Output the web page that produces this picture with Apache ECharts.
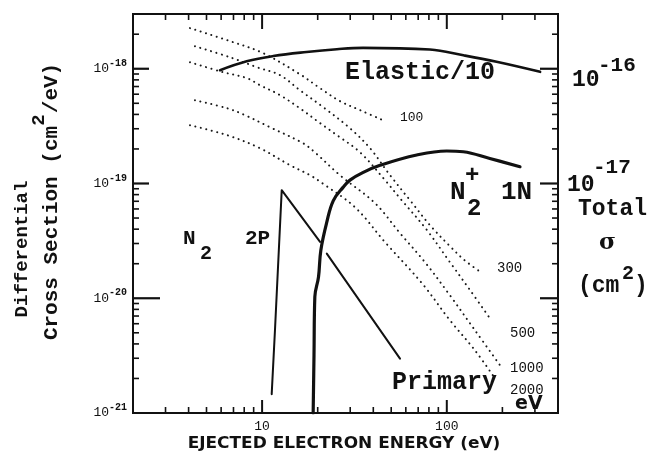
<!DOCTYPE html>
<html>
<head>
<meta charset="utf-8">
<script src="https://cdn.jsdelivr.net/npm/echarts@6/dist/echarts.min.js"></script>
<style>
  html, body { margin: 0; padding: 0; background: #fff; }
  #c { width: 651px; height: 459px; }
</style>
</head>
<body>
<div id="c"></div>
<script>
// Axis ranges: ejected electron energy (eV), differential cross section (cm^2/eV),
// and total cross section (cm^2) on the right-hand scale.
const X_MIN = 2, X_MAX = 400;
const Y_MIN = 1e-21, Y_MAX = 3e-18;
const TOTAL_MIN = 1e-19, TOTAL_MAX = 3e-16;
// The log scale is fed values in these units to keep the numbers well inside float precision
const Y_UNIT = 1e-21, TOTAL_UNIT = 1e-19;

// Tick positions
const xMajorTicks = [10, 100];
const xMinorTicks = [3, 4, 5, 6, 7, 8, 9, 20, 30, 40, 50, 60, 70, 80, 90, 200, 300];
const yDecades = [1e-21, 1e-20, 1e-19, 1e-18];
const totalDecades = [1e-19, 1e-18, 1e-17, 1e-16];
const minorMultipliers = [2, 3, 4, 5, 6, 7, 8, 9];
const yLabelledExponents = [-21, -20, -19, -18];

// Elastic / 10
const elasticE = [5.92, 8.25, 11.5, 17.4, 25.4, 35.2, 81, 123, 186, 320];
const elasticS = [9.7e-19, 1.16e-18, 1.29e-18, 1.40e-18, 1.48e-18, 1.52e-18, 1.47e-18, 1.31e-18, 1.15e-18, 9.4e-19];

// N2+ first negative
const n1nE = [18.9, 19.1, 19.3, 20.2, 20.8, 22.4, 24.3, 27.5, 29.9, 35.3, 43.5, 68.7, 99.8, 122.8, 171, 249];
const n1nS = [1.0e-21, 3.2e-21, 1.03e-20, 1.53e-20, 2.62e-20, 4.6e-20, 7.1e-20, 9.3e-20, 1.07e-19, 1.25e-19, 1.44e-19, 1.77e-19, 1.92e-19, 1.89e-19, 1.65e-19, 1.40e-19];

// N2 second positive (pen lifted where it crosses the 1N curve)
const n2pE = [11.27, 11.74, 12.77, 20.6, null, 22.4, 55.8];
const n2pS = [1.46e-21, 5.26e-21, 8.74e-20, 3.1e-20, null, 2.45e-20, 2.98e-21];

// Secondary electron spectra for primary energies 100 ... 2000 eV
const p100E = [4.07, 6.70, 10.1, 16.0, 20.6, 26.4, 33.9, 45.1];
const p100S = [2.26e-18, 1.74e-18, 1.37e-18, 8.97e-19, 6.77e-19, 5.22e-19, 4.36e-19, 3.56e-19];

const p300E = [4.33, 6.70, 9.39, 12.5, 16.0, 21.4, 29.9, 38.4, 49.3, 63.2, 81.1, 104, 125, 148];
const p300S = [1.57e-18, 1.26e-18, 1.03e-18, 8.80e-19, 6.51e-19, 4.63e-19, 3.03e-19, 2.03e-19, 1.18e-19, 7.15e-20, 4.33e-20, 2.84e-20, 2.14e-20, 1.75e-20];

const p500E = [4.07, 6.14, 8.28, 9.74, 12.5, 16.0, 20.6, 25.4, 33.9, 46.3, 55.8, 78.1, 104, 134, 171];
const p500S = [1.14e-18, 9.34e-19, 8.28e-19, 7.19e-19, 5.89e-19, 4.53e-19, 3.36e-19, 2.64e-19, 1.87e-19, 1.07e-19, 7.44e-20, 3.92e-20, 2.06e-20, 1.17e-20, 6.69e-21];

const p1000E = [4.33, 6.46, 8.08, 11.0, 16.6, 19.3, 26.4, 40.9, 55.8, 76.2, 104, 142, 194];
const p1000S = [5.32e-19, 4.53e-19, 3.94e-19, 3.10e-19, 2.25e-19, 1.87e-19, 1.18e-19, 6.73e-20, 3.69e-20, 2.06e-20, 1.06e-20, 5.26e-21, 2.61e-21];

const p2000E = [4.07, 6.46, 9.74, 14.2, 18.2, 21.1, 31.8, 46.3, 73.4, 104, 142, 182];
const p2000S = [3.22e-19, 2.64e-19, 2.03e-19, 1.44e-19, 1.18e-19, 1.01e-19, 6.22e-20, 3.08e-20, 1.35e-20, 6.43e-21, 3.52e-21, 2.01e-21];

const MONO = '"Liberation Mono", "DejaVu Sans Mono", monospace';
const SANS = '"DejaVu Sans", sans-serif';

function pairs(xs, ys) {
  return xs.map((x, i) => (x === null ? [NaN, NaN] : [x, ys[i] / Y_UNIT]));
}

function expOf(v) {
  const e = Math.log10(v);
  return Math.abs(e - Math.round(e)) < 1e-6 ? Math.round(e) : null;
}

// Tick marks: [x, y, dx, dy, lineWidth], x/y in the bound axes' units
const frameTicks = [];
const totalTicks = [];
function minorsOf(decades) {
  const out = [];
  decades.forEach(d => minorMultipliers.forEach(m => out.push(m * d)));
  return out;
}
const yLo = Y_MIN / Y_UNIT, yHi = Y_MAX / Y_UNIT;
xMajorTicks.forEach(t => {
  frameTicks.push([t, yLo, 0, -13, 2]);
  frameTicks.push([t, yHi, 0, 15, 2]);
});
xMinorTicks.forEach(t => {
  frameTicks.push([t, yLo, 0, -6, 1.6]);
  frameTicks.push([t, yHi, 0, 6, 1.6]);
});
yDecades.forEach(t => {
  if (t === Y_MIN) return;
  frameTicks.push([X_MIN, t / Y_UNIT, Math.abs(t - 1e-20) < 1e-25 ? 27 : 16, 0, 2.2]);
});
minorsOf(yDecades).filter(v => v < Y_MAX * 0.999).forEach(t => {
  frameTicks.push([X_MIN, t / Y_UNIT, 6, 0, 1.6]);
});
totalDecades.forEach(t => {
  if (t === TOTAL_MIN) return;
  totalTicks.push([X_MAX, t / TOTAL_UNIT, -18, 0, 2.2]);
});
minorsOf(totalDecades).filter(v => v < TOTAL_MAX * 0.999).forEach(t => {
  totalTicks.push([X_MAX, t / TOTAL_UNIT, -6, 0, 1.6]);
});

function tickRender(params, api) {
  const p = api.coord([api.value(0), api.value(1)]);
  return {
    type: 'line',
    shape: { x1: p[0], y1: p[1], x2: p[0] + api.value(2), y2: p[1] + api.value(3) },
    style: { stroke: '#111', lineWidth: api.value(4) }
  };
}

const solid = (name, xs, ys, width, smooth) => ({
  name, type: 'line', data: pairs(xs, ys), symbol: 'none', showSymbol: false, smooth,
  connectNulls: false, silent: true,
  lineStyle: { color: '#111', width, cap: 'round', join: 'round' }
});
const dotted = (name, xs, ys) => ({
  name, type: 'line', data: pairs(xs, ys), symbol: 'none', showSymbol: false, smooth: 0.35, silent: true,
  lineStyle: { color: '#1a1a1a', width: 2, type: [0.1, 5.5], cap: 'round' }
});

function txt(text, x, y, font, extra) {
  const el = {
    type: 'text', x, y, silent: true,
    style: { text, font, fill: '#111', align: 'left', textAlign: 'left', verticalAlign: 'middle', textVerticalAlign: 'middle' }
  };
  if (extra) {
    Object.assign(el, extra.el || {});
    Object.assign(el.style, extra.style || {});
  }
  return el;
}
const upright = () => ({ el: { rotation: Math.PI / 2 }, style: { align: 'center', textAlign: 'center' } });

const chart = echarts.init(document.getElementById('c'), null, { renderer: 'canvas' });
chart.setOption({
  animation: false,
  backgroundColor: '#fff',
  grid: { left: 133, right: 93, top: 14, bottom: 46, show: true, borderColor: '#111', borderWidth: 2, backgroundColor: 'transparent' },
  xAxis: {
    type: 'log', logBase: 10, min: X_MIN, max: X_MAX,
    axisLine: { show: false }, axisTick: { show: false }, splitLine: { show: false }, minorTick: { show: false },
    axisLabel: {
      margin: 7, color: '#111', fontFamily: MONO, fontSize: 13,
      formatter: v => (expOf(v) !== null ? String(Math.round(v)) : '')
    }
  },
  yAxis: [{
    type: 'log', logBase: 10, min: yLo, max: yHi,
    axisLine: { show: false }, axisTick: { show: false }, splitLine: { show: false },
    axisLabel: {
      margin: 6, color: '#111', fontFamily: MONO,
      formatter: v => {
        const e = expOf(v * Y_UNIT);
        return e !== null && yLabelledExponents.includes(e) ? '{b|10}{s|' + e + '}' : '';
      },
      rich: {
        b: { fontSize: 13, fontFamily: MONO, color: '#111', lineHeight: 13, verticalAlign: 'bottom' },
        s: { fontSize: 10, fontFamily: MONO, color: '#111', fontWeight: 'bold', lineHeight: 10, padding: [0, 0, 7, 0], verticalAlign: 'bottom' }
      }
    }
  }, {
    type: 'log', logBase: 10, min: TOTAL_MIN / TOTAL_UNIT, max: TOTAL_MAX / TOTAL_UNIT, position: 'right',
    axisLine: { show: false }, axisTick: { show: false }, splitLine: { show: false },
    axisLabel: { show: false }
  }],
  series: [
    dotted('100 eV', p100E, p100S),
    dotted('300 eV', p300E, p300S),
    dotted('500 eV', p500E, p500S),
    dotted('1000 eV', p1000E, p1000S),
    dotted('2000 eV', p2000E, p2000S),
    solid('Elastic/10', elasticE, elasticS, 2.6, 0.4),
    solid('N2+ 1N', n1nE, n1nS, 3.2, 0.4),
    solid('N2 2P', n2pE, n2pS, 2, false),
    { type: 'custom', name: 'frame ticks', renderItem: tickRender, data: frameTicks, clip: false, silent: true,
      encode: { x: 0, y: 1 }, z: 5 },
    { type: 'custom', name: 'total ticks', yAxisIndex: 1, renderItem: tickRender, data: totalTicks, clip: false, silent: true,
      encode: { x: 0, y: 1 }, z: 5 }
  ],
  graphic: [
    // left axis title, reading upwards
    txt('Differential', 22, 249, 'bold 19px ' + MONO, upright()),
    txt('Cross Section (cm', 52, 233, 'bold 21px ' + MONO, upright()),
    txt('2', 39, 120, 'bold 19px ' + MONO, upright()),
    txt('/eV)', 52, 88, 'bold 21px ' + MONO, upright()),
    // curve annotations
    txt('Elastic/10', 345, 73, 'bold 25px ' + MONO),
    txt('Primary', 392, 383, 'bold 25px ' + MONO),
    txt('N', 450, 192, 'bold 26px ' + MONO),
    txt('+', 465, 176, 'bold 24px ' + MONO),
    txt('2', 467, 209, 'bold 24px ' + MONO),
    txt('1N', 501, 192, 'bold 26px ' + MONO),
    txt('N', 183, 239, 'bold 21px ' + MONO),
    txt('2', 200, 254, 'bold 20px ' + MONO),
    txt('2P', 245, 239, 'bold 21px ' + MONO),
    txt('100', 400, 118, '13px ' + MONO),
    txt('300', 497, 268, '14px ' + MONO),
    txt('500', 510, 333, '14px ' + MONO),
    txt('1000', 510, 368, '14px ' + MONO),
    txt('2000', 510, 390, '14px ' + MONO),
    txt('eV', 515, 404, 'bold 19px ' + SANS),
    // right-hand total cross-section scale
    txt('10', 572, 80, 'bold 23px ' + MONO),
    txt('-16', 598, 66, 'bold 21px ' + MONO),
    txt('10', 567, 185, 'bold 23px ' + MONO),
    txt('-17', 593, 168, 'bold 21px ' + MONO),
    txt('Total', 578, 209, 'bold 23px ' + MONO),
    txt('σ', 599, 243, 'bold 23px "DejaVu Serif", serif'),
    txt('(cm', 578, 286, 'bold 23px ' + MONO),
    txt('2', 622, 274, 'bold 20px ' + MONO),
    txt(')', 634, 286, 'bold 23px ' + MONO),
    // bottom axis title
    txt('EJECTED ELECTRON ENERGY (eV)', 344, 444, 'bold 15px ' + SANS,
        { el: { scaleX: 1.13, scaleY: 1 }, style: { align: 'center', textAlign: 'center' } })
  ]
});
</script>
</body>
</html>
